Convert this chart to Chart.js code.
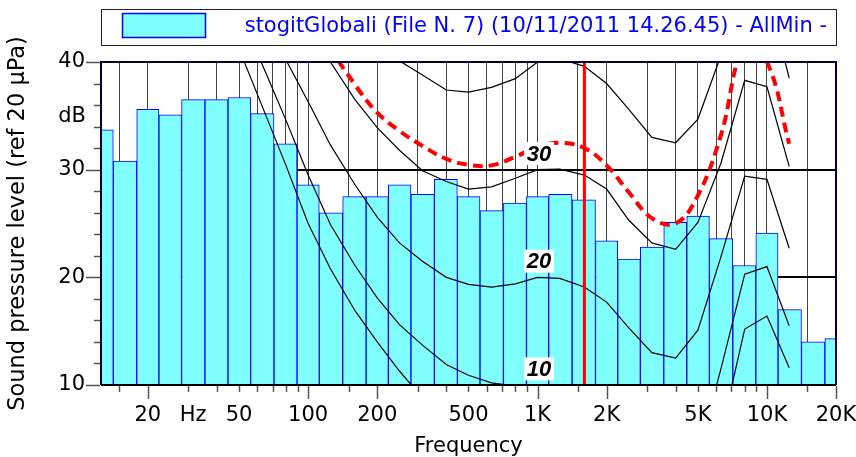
<!DOCTYPE html>
<html>
<head>
<meta charset="utf-8">
<script src="https://cdn.jsdelivr.net/npm/chart.js@4"></script>
<style>
  body { margin: 0; background: #fff; }
</style>
</head>
<body>
<canvas id="spectrumChart" width="856" height="457"></canvas>
<script>
// 1/3 octave bands
const bandFreqs = [12.5, 16, 20, 25, 31.5, 40, 50, 63, 80, 100, 125, 160, 200, 250, 315, 400, 500, 630, 800,
  1000, 1250, 1600, 2000, 2500, 3150, 4000, 5000, 6300, 8000, 10000, 12500, 16000, 20000];
const bandLevels = [33.7, 30.8, 35.6, 35.1, 36.5, 36.5, 36.7, 35.2, 32.4, 28.6, 26.0, 27.5, 27.5, 28.6, 27.7, 29.1, 27.5, 26.2, 26.9,
  27.5, 27.7, 27.2, 23.4, 21.7, 22.8, 25.1, 25.7, 23.6, 21.1, 24.1, 17.0, 14.0, 14.3];

// equal loudness contours (same bands)
const contourLow = [null, null, 62, 56, 51, 46, 41.2, 35.9, 30.4, 25.0, 20.8, 16.9, 14.0, 11.3, 8.8, 6.8, 5.3, 4.3, 3.8,
  4, 4, 3, 0, -3, -4, -4, -1, 5.5, 15.2, 16.4, 11.6, null, null];
const contour10 = [null, null, 70, 63, 57, 51, 45.3, 39.8, 34.6, 29.5, 24.9, 21.1, 18.1, 15.6, 13.7, 11.9, 10.9, 10.2, 9.9,
  10.0, 9.8, 8.5, 5, 2, 0.5, 1, 3.5, 11.5, 20.3, 21.0, 15.5, null, null];
const contour20 = [null, null, 70, 65, 60, 55, 50, 45, 40.2, 36.3, 32.3, 28.6, 25.6, 23.2, 21.5, 20.0, 19.35, 19.1, 19.4,
  20.0, 19.9, 19.1, 17.7, 15.3, 13.0, 12.5, 15.1, 21.9, 29.4, 29.1, 22.7, null, null];
const contour30 = [null, null, 78, 73, 68, 63, 58, 53, 48.5, 44, 40.0, 36.5, 33.9, 31.8, 29.9, 28.9, 28.2, 28.4, 29.2,
  30.0, 30.05, 29.5, 28.2, 25.3, 23.2, 22.6, 25.1, 30.6, 38.3, 37.7, 30.3, null, null];
const contour40 = [null, null, 88, 83, 78, 73, 68, 63, 59, 55, 51, 47, 43.5, 40.1, 38.8, 37.4, 37.2, 37.65, 38.45,
  40.0, 40.3, 39.6, 38.0, 35.6, 33.0, 32.5, 34.7, 40.6, 48, 46.7, 38.5, null, null];
const limitCurve = [null, null, null, null, null, null, null, null, null, 47, 41.5, 37.9, 35.3, 33.6, 32.2, 31.0, 30.45, 30.4, 31.2,
  32.1, 32.5, 32.0, 30.4, 27.9, 25.5, 25.0, 27.6, 33.2, 41.5, 40.0, 32.4, null, null];

const markerFreq = 1600;
const phonLevels = [30, 20, 10];

const gridFreqs = [15, 20, 30, 40, 50, 60, 70, 80, 90, 100, 150, 200, 300, 400, 500, 600, 700, 800, 900,
  1000, 1500, 2000, 3000, 4000, 5000, 6000, 7000, 8000, 9000, 10000, 15000, 20000];
const longTickFreqs = [20, 100, 200, 1000, 2000, 10000, 20000];
const xLabelFreqs = [20, 31.5, 50, 100, 200, 500, 1000, 2000, 5000, 10000, 20000];
const xLabelTexts = ['20', 'Hz', '50', '100', '200', '500', '1K', '2K', '5K', '10K', '20K'];
const legendText = 'stogitGlobali (File N. 7) (10/11/2011 14.26.45) - AllMin -';

const fontFamily = '"DejaVu Sans", sans-serif';
Chart.defaults.font.family = fontFamily;
Chart.defaults.font.size = 21;
Chart.defaults.color = '#000';

let points = function (values) {
  return bandFreqs.map(function (f, i) { return { x: f, y: values[i] }; });
};

let contour = function (values) {
  return {
    type: 'line', data: points(values), borderColor: '#000', borderWidth: 1.2,
    pointRadius: 0, tension: 0, order: 0
  };
};

let decor = {
  id: 'decor',
  afterDatasetsDraw(chart) {
    const { ctx, chartArea: a, scales: { x, y } } = chart;
    ctx.save();
    // frame
    ctx.lineWidth = 2;
    ctx.strokeStyle = '#000';
    ctx.beginPath(); ctx.moveTo(a.left, a.bottom); ctx.lineTo(a.right, a.bottom); ctx.stroke();
    ctx.strokeStyle = '#000033';
    ctx.beginPath();
    ctx.moveTo(a.left, a.bottom); ctx.lineTo(a.left, a.top); ctx.lineTo(a.right, a.top); ctx.lineTo(a.right, a.bottom);
    ctx.stroke();
    // tick marks
    ctx.strokeStyle = '#555';
    ctx.lineWidth = 1.5;
    gridFreqs.forEach(function (f) {
      const px = Math.round(x.getPixelForValue(f)) + 0.5;
      const len = longTickFreqs.includes(f) ? 14 : 7;
      ctx.beginPath(); ctx.moveTo(px, a.bottom + 1); ctx.lineTo(px, a.bottom + len); ctx.stroke();
    });
    y.ticks.forEach(function (t) {
      const py = Math.round(y.getPixelForValue(t.value)) + 0.5;
      const len = t.value % 10 === 0 ? 15 : 7;
      ctx.beginPath(); ctx.moveTo(a.left - len, py); ctx.lineTo(a.left - 1, py); ctx.stroke();
    });
    // phon labels
    ctx.font = 'italic bold 22px "Liberation Sans", Arial, sans-serif';
    ctx.textAlign = 'center';
    ctx.textBaseline = 'middle';
    phonLevels.forEach(function (p) {
      const px = x.getPixelForValue(1000) + 1.5;
      const py = y.getPixelForValue(p + 1.5);
      ctx.fillStyle = '#fff';
      ctx.fillRect(px - 15, py - 11.5, 30, 23);
      ctx.fillStyle = '#000';
      ctx.fillText(String(p), px, py + 1);
    });
    ctx.restore();
  },
  afterDraw(chart) {
    const { ctx, chartArea: a, scales: { y } } = chart;
    ctx.save();
    // legend box
    ctx.strokeStyle = '#222';
    ctx.lineWidth = 1;
    ctx.strokeRect(a.left + 0.5, 9.5, a.right - a.left, 36);
    const bar = chart.data.datasets[chart.data.datasets.length - 1];
    ctx.fillStyle = bar.backgroundColor;
    ctx.fillRect(122, 13, 84, 25);
    ctx.strokeStyle = bar.borderColor;
    ctx.lineWidth = 1.5;
    ctx.strokeRect(122.5, 13.5, 83, 24);
    ctx.fillStyle = '#0000ff';
    ctx.font = '21px ' + fontFamily;
    ctx.textAlign = 'right';
    ctx.textBaseline = 'alphabetic';
    ctx.fillText(bar.label, a.right - 9, 32);
    // unit label
    ctx.fillStyle = '#000';
    ctx.textBaseline = 'middle';
    ctx.fillText('dB', a.left - 15, y.getPixelForValue(35) + 1);
    ctx.restore();
  }
};

let chart = new Chart('spectrumChart', {
  type: 'bar',
  data: {
    datasets: [
      { type: 'line', label: 'marker', data: [{ x: markerFreq, y: 10 }, { x: markerFreq, y: 40 }],
        borderColor: '#ff0000', borderWidth: 3, pointRadius: 0, order: 0 },
      { type: 'line', label: 'limit', data: points(limitCurve), borderColor: '#ff0000', borderWidth: 4,
        borderDash: [10, 6], tension: 0.4, capBezierPoints: false, pointRadius: 0, order: 0 },
      contour(contourLow),
      contour(contour10),
      contour(contour20),
      contour(contour30),
      contour(contour40),
      { type: 'bar', label: legendText, data: points(bandLevels), backgroundColor: '#80ffff',
        borderColor: '#0000ff', borderWidth: 1, borderSkipped: 'start',
        barThickness: 'flex', barPercentage: 1, categoryPercentage: 1, order: 1 }
    ]
  },
  options: {
    responsive: false,
    animation: false,
    devicePixelRatio: 1,
    layout: { padding: { top: 62, right: 20, left: 0, bottom: 0 } },
    plugins: { legend: { display: false }, tooltip: { enabled: false } },
    scales: {
      x: {
        type: 'logarithmic', min: 12.5, max: 20000, offset: false, bounds: 'data',
        afterBuildTicks: function (s) {
          s.ticks = gridFreqs.concat([31.5]).sort(function (a, b) { return a - b; })
            .map(function (v) { return { value: v }; });
        },
        afterFit: function (s) { s.height = 72; s.paddingLeft = 0; s.paddingRight = 0; },
        grid: {
          color: function (c) { return c.tick && c.tick.value === 31.5 ? 'rgba(0,0,0,0)' : '#444'; },
          lineWidth: 1, drawTicks: false, offset: false
        },
        border: { display: false },
        ticks: {
          autoSkip: false, maxRotation: 0, minRotation: 0, padding: 18,
          callback: function (v) {
            const i = xLabelFreqs.indexOf(v);
            return i < 0 ? '' : xLabelTexts[i];
          }
        },
        title: { display: true, text: 'Frequency', padding: { top: 0, bottom: -2 } }
      },
      y: {
        min: 10, max: 40,
        afterFit: function (s) { s.width = 101; },
        ticks: {
          stepSize: 2, padding: 16, autoSkip: false,
          callback: function (v) { return v % 10 === 0 ? String(v) : ''; }
        },
        grid: {
          color: function (c) { return c.tick && c.tick.value % 10 === 0 ? '#000' : 'rgba(0,0,0,0)'; },
          lineWidth: 2, drawTicks: false
        },
        border: { display: false },
        title: { display: true, text: 'Sound pressure level (ref 20 µPa)', font: { size: 22.5 },
          padding: { top: 5, bottom: 0 } }
      }
    }
  },
  plugins: [decor]
});
</script>
</body>
</html>
